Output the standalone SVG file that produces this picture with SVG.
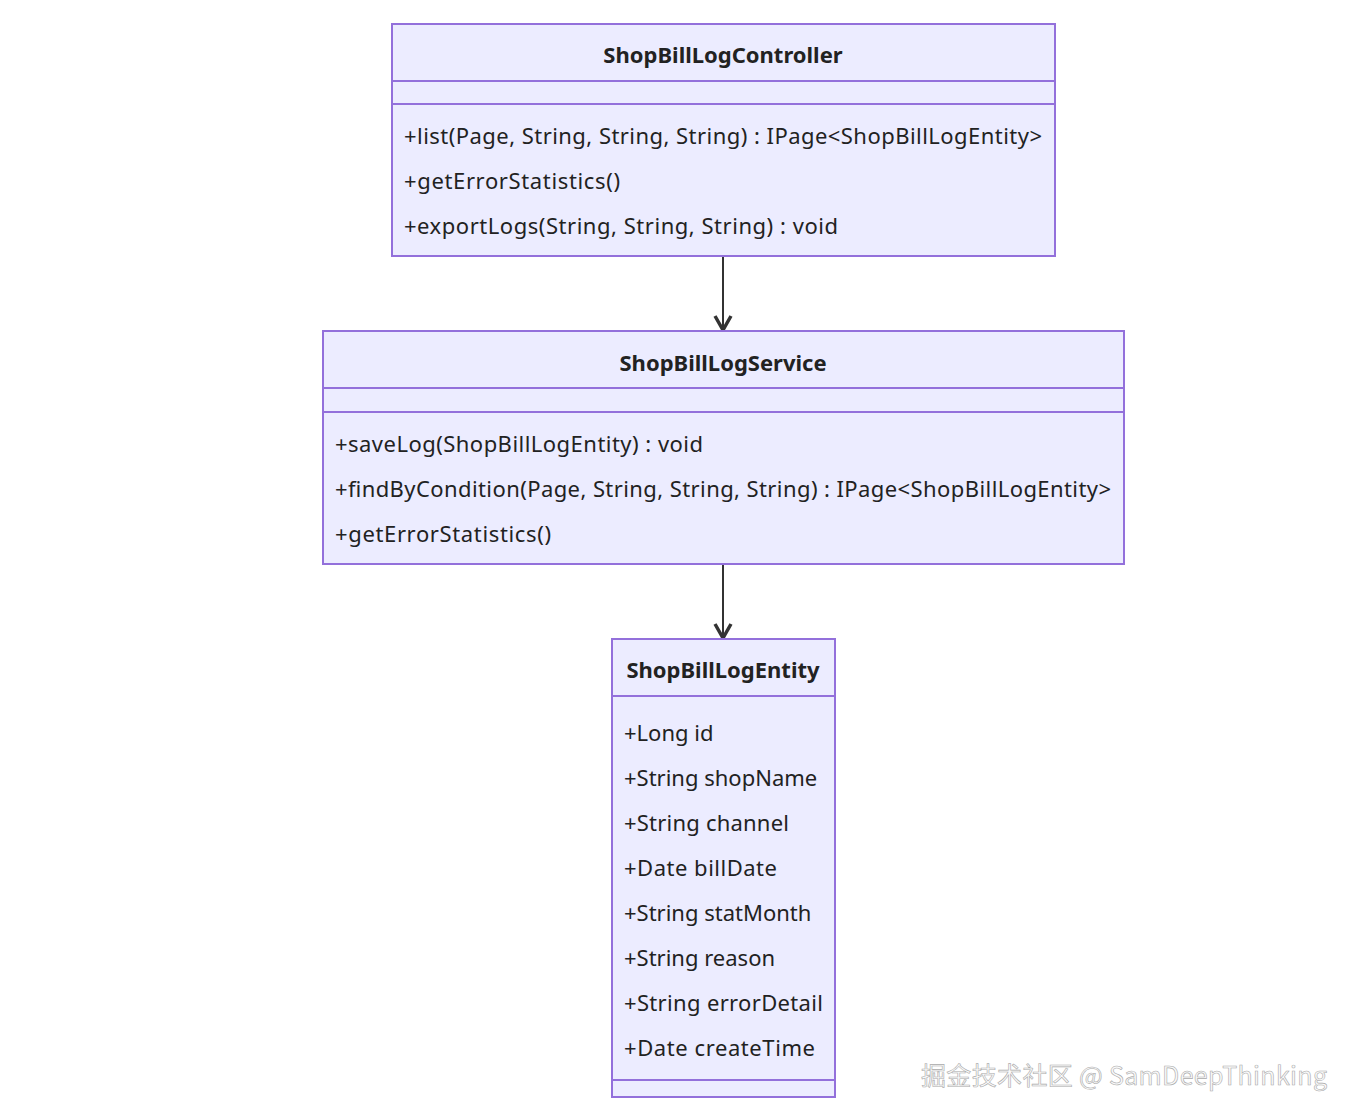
<svg xmlns="http://www.w3.org/2000/svg" width="1355" height="1120" viewBox="0 0 1355 1120">
<defs>
<style>
.box{fill:#ECECFF;stroke:#9370DB;stroke-width:2}
.div{stroke:#9370DB;stroke-width:2}
.t{font-family:"Noto Sans","Open Sans","DejaVu Sans",sans-serif;font-size:22px;fill:#222}
.h{font-family:"Noto Sans","Open Sans","DejaVu Sans",sans-serif;font-size:22px;font-weight:bold;fill:#222;text-anchor:middle}
.edge{stroke:#333;stroke-width:2;fill:none}
.wm{font-family:"Noto Sans CJK SC","Noto Sans",sans-serif;font-size:25px;fill:#fafafa;stroke:#aaa;stroke-width:0.6}
</style>
<marker id="arr" viewBox="0 0 20 20" refX="17" refY="10" markerWidth="20" markerHeight="20" markerUnits="userSpaceOnUse" orient="auto">
<path d="M3,2 L17,10 L3,18" fill="none" stroke="#333" stroke-width="3.5"/>
</marker>
</defs>
<rect width="1355" height="1120" fill="#fff"/>
<g id="connectors">
<line class="edge" x1="723" y1="257" x2="723" y2="330" marker-end="url(#arr)"/>
<line class="edge" x1="723" y1="565" x2="723" y2="638" marker-end="url(#arr)"/>
</g>
<g id="ShopBillLogController">
<rect class="box" x="392" y="24" width="663" height="232"/>
<line class="div" x1="392" y1="81" x2="1055" y2="81"/>
<line class="div" x1="392" y1="104" x2="1055" y2="104"/>
<text class="h" x="723" y="63">ShopBillLogController</text>
<text class="t" x="404" y="144" textLength="638" lengthAdjust="spacing">+list(Page, String, String, String) : IPage&lt;ShopBillLogEntity&gt;</text>
<text class="t" x="404" y="189" textLength="216" lengthAdjust="spacing">+getErrorStatistics()</text>
<text class="t" x="404" y="234" textLength="434" lengthAdjust="spacing">+exportLogs(String, String, String) : void</text>
</g>
<g id="ShopBillLogService">
<rect class="box" x="323" y="331" width="801" height="233"/>
<line class="div" x1="323" y1="388" x2="1124" y2="388"/>
<line class="div" x1="323" y1="412" x2="1124" y2="412"/>
<text class="h" x="723" y="371">ShopBillLogService</text>
<text class="t" x="335" y="452" textLength="368" lengthAdjust="spacing">+saveLog(ShopBillLogEntity) : void</text>
<text class="t" x="335" y="497" textLength="776" lengthAdjust="spacing">+findByCondition(Page, String, String, String) : IPage&lt;ShopBillLogEntity&gt;</text>
<text class="t" x="335" y="542" textLength="216" lengthAdjust="spacing">+getErrorStatistics()</text>
</g>
<g id="ShopBillLogEntity">
<rect class="box" x="612" y="639" width="223" height="458"/>
<line class="div" x1="612" y1="696" x2="835" y2="696"/>
<line class="div" x1="612" y1="1080" x2="835" y2="1080"/>
<text class="h" x="723" y="678">ShopBillLogEntity</text>
<text class="t" x="624" y="741">+Long id</text>
<text class="t" x="624" y="786">+String shopName</text>
<text class="t" x="624" y="831" textLength="165" lengthAdjust="spacing">+String channel</text>
<text class="t" x="624" y="876" textLength="153" lengthAdjust="spacing">+Date billDate</text>
<text class="t" x="624" y="921">+String statMonth</text>
<text class="t" x="624" y="966">+String reason</text>
<text class="t" x="624" y="1011" textLength="199" lengthAdjust="spacing">+String errorDetail</text>
<text class="t" x="624" y="1056" textLength="191" lengthAdjust="spacing">+Date createTime</text>
</g>
<text class="wm" x="921" y="1085" textLength="406" lengthAdjust="spacing">掘金技术社区 @ SamDeepThinking</text>
</svg>
